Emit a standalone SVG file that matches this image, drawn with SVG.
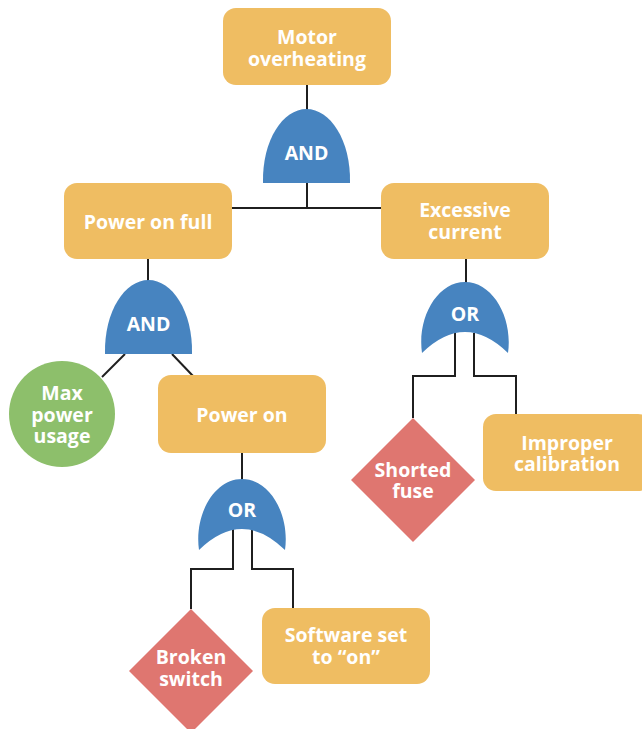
<svg xmlns="http://www.w3.org/2000/svg" width="642" height="729" viewBox="0 0 642 729">
  <style>
    .event { fill: #EFBD62; }
    .gate { fill: #4784C0; }
    .basic { fill: #8DBF6B; }
    .cond { fill: #DF7670; }
    .lbl { font-family: "Open Sans", "Liberation Sans", sans-serif; font-weight: 700; font-size: 19.5px; fill: #ffffff; text-anchor: middle; }
    .wire { fill: none; stroke: #1f1f1f; stroke-width: 2; }
  </style>
  <rect width="642" height="729" fill="#ffffff"/>

  <!-- connectors -->
  <g id="connectors">
    <line class="wire" x1="307" y1="85" x2="307" y2="110"/>
    <polyline class="wire" points="307,182 307,208"/>
    <line class="wire" x1="232" y1="208" x2="381" y2="208"/>
    <line class="wire" x1="148" y1="259" x2="148" y2="281"/>
    <line class="wire" x1="125" y1="354" x2="102" y2="377"/>
    <line class="wire" x1="172" y1="354" x2="193" y2="376"/>
    <line class="wire" x1="466" y1="259" x2="466" y2="283"/>
    <polyline class="wire" points="455,333 455,376 413,376 413,418"/>
    <polyline class="wire" points="474,333 474,376 516,376 516,415"/>
    <line class="wire" x1="242" y1="453" x2="242" y2="480"/>
    <polyline class="wire" points="233,529 233,569 191,569 191,609"/>
    <polyline class="wire" points="252,529 252,569 293,569 293,609"/>
  </g>

  <g id="motor-overheating">
    <rect class="event" x="223" y="8" width="168" height="77" rx="13"/>
    <text class="lbl" x="307" y="44">Motor</text>
    <text class="lbl" x="307" y="66">overheating</text>
  </g>

  <g id="and-top">
    <path class="gate" d="M263,183 C262,140 283,109 306.5,109 C330,109 351,140 350,183 Z"/>
    <text class="lbl" x="306.5" y="160">AND</text>
  </g>

  <g id="power-on-full">
    <rect class="event" x="64" y="183" width="168" height="76" rx="13"/>
    <text class="lbl" x="148" y="229">Power on full</text>
  </g>

  <g id="excessive-current">
    <rect class="event" x="381" y="183" width="168" height="76" rx="13"/>
    <text class="lbl" x="465" y="217">Excessive</text>
    <text class="lbl" x="465" y="239">current</text>
  </g>

  <g id="and-left">
    <path class="gate" d="M105,354 C104,311 125,280 148.5,280 C172,280 193,311 192,354 Z"/>
    <text class="lbl" x="148.5" y="331">AND</text>
  </g>

  <g id="or-right">
    <path class="gate" d="M422,353 C417,318 437,282 465,282 C493,282 513,318 508,353 Q465,311 422,353 Z"/>
    <text class="lbl" x="465" y="321">OR</text>
  </g>

  <g id="max-power-usage">
    <circle class="basic" cx="62" cy="414" r="53"/>
    <text class="lbl" x="62" y="400">Max</text>
    <text class="lbl" x="62" y="422">power</text>
    <text class="lbl" x="62" y="443">usage</text>
  </g>

  <g id="power-on">
    <rect class="event" x="158" y="375" width="168" height="78" rx="13"/>
    <text class="lbl" x="242" y="422">Power on</text>
  </g>

  <g id="shorted-fuse">
    <polygon class="cond" points="413,418 475,480 413,542 351,480"/>
    <text class="lbl" x="413" y="477">Shorted</text>
    <text class="lbl" x="413" y="498">fuse</text>
  </g>

  <g id="improper-calibration">
    <rect class="event" x="483" y="414" width="168" height="77" rx="13"/>
    <text class="lbl" x="567" y="450">Improper</text>
    <text class="lbl" x="567" y="471">calibration</text>
  </g>

  <g id="or-bottom">
    <path class="gate" d="M199,550 C194,515 214,479 242,479 C270,479 290,515 285,550 Q242,508 199,550 Z"/>
    <text class="lbl" x="242" y="517">OR</text>
  </g>

  <g id="broken-switch">
    <polygon class="cond" points="191,609 253,671 191,733 129,671"/>
    <text class="lbl" x="191" y="664">Broken</text>
    <text class="lbl" x="191" y="686">switch</text>
  </g>

  <g id="software-set-on">
    <rect class="event" x="262" y="608" width="168" height="76" rx="13"/>
    <text class="lbl" x="346" y="642">Software set</text>
    <text class="lbl" x="346" y="664">to “on”</text>
  </g>
</svg>
